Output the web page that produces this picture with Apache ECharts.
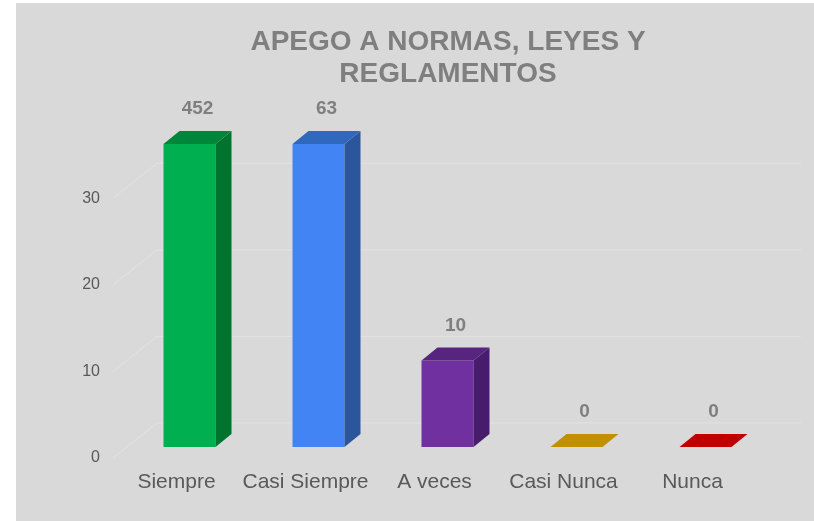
<!DOCTYPE html>
<html>
<head>
<meta charset="utf-8">
<script src="https://cdn.jsdelivr.net/npm/echarts@6/dist/echarts.min.js"></script>
<style>
    html, body { margin:0; padding:0; background:#ffffff; }
    #fondo { position:absolute; left:16px; top:3px; width:798px; height:518px; background:#d9d9d9; }
    #grafica { position:absolute; left:0; top:0; width:814px; height:521px; }
</style>
</head>
<body>
<div id="fondo"></div>
<div id="grafica"></div>
<script>
    var categorias = ['Siempre', 'Casi Siempre', 'A veces', 'Casi Nunca', 'Nunca'];
    var valores = [452, 63, 10, 0, 0];
    var lineasGuia = [0, 10, 20, 30];   //lineas de la pared del fondo
    var maxEje = 35;                    //el eje de excel corta las barras aqui

    //colores por barra: frente, lado, tapa
    var colorFrente = ['#00b050', '#4384f4', '#7030a0', '#bf9000', '#c00000'];
    var colorLado = ['#00742f', '#2b569c', '#481c6c', '#8f6b00', '#900000'];
    var colorTapa = ['#00863a', '#3068be', '#57247f', '#c09000', '#c00000'];

    var fuente = '"Liberation Sans", Arial, sans-serif';
    var myChart = echarts.init(document.getElementById('grafica'), null, {renderer:'canvas'});

    //profundidad de la pared y de la barra
    var PARED_DX = 44, PARED_DY = -35;
    var BARRA_DX = 16, BARRA_DY = -13;

    function dibujarGuia(params, api){
        var p = api.coord([0, api.value(1)]);
        var x0 = params.coordSys.x;
        var x1 = x0 + params.coordSys.width;
        var y = p[1];
        return {
            type:'polyline',
            shape:{ points:[[x0 + 1, y], [x0 + 1 + PARED_DX, y + PARED_DY], [x1 + PARED_DX, y + PARED_DY]] },
            style:{ stroke:'#e2e2e2', lineWidth:1, fill:null },
            silent:true
        };
    }

    function dibujarBarra(params, api){
        var i = api.value(0);
        var v = api.value(1);
        var base = api.coord([i, 0]);
        var tope = api.coord([i, Math.min(v, maxEje)]);
        var cx = base[0] + 13;
        var yb = base[1] - 11;
        var yt = tope[1] - 11;
        var hw = 26;
        var hijos = [];
        if (yb - yt > 0.5) {
            hijos.push({
                type:'rect',
                shape:{ x:cx - hw, y:yt, width:hw * 2, height:yb - yt },
                style:{ fill:colorFrente[i] }
            });
            hijos.push({
                type:'polygon',
                shape:{ points:[[cx + hw, yt], [cx + hw + BARRA_DX, yt + BARRA_DY], [cx + hw + BARRA_DX, yb + BARRA_DY], [cx + hw, yb]] },
                style:{ fill:colorLado[i] }
            });
        }
        hijos.push({
            type:'polygon',
            shape:{ points:[[cx - hw, yt], [cx + hw, yt], [cx + hw + BARRA_DX, yt + BARRA_DY], [cx - hw + BARRA_DX, yt + BARRA_DY]] },
            style:{ fill:colorTapa[i] }
        });
        hijos.push({
            type:'text',
            style:{
                text:String(v), x:cx + BARRA_DX / 2, y:yt + BARRA_DY - 22,
                align:'center', verticalAlign:'middle',
                font:'bold 19px ' + fuente, fill:'#7f7f7f'
            }
        });
        return { type:'group', children:hijos };
    }

    var option = {
        backgroundColor:'transparent',
        animation:false,
        graphic:[{
            type:'text',
            x:448, y:26,
            style:{
                text:'APEGO A NORMAS, LEYES Y\nREGLAMENTOS',
                align:'center', verticalAlign:'top',
                font:'bold 28px ' + fuente, lineHeight:32, fill:'#7f7f7f'
            }
        }],
        grid:{ left:112, right:57, top:155, bottom:63 },
        xAxis:{
            type:'category',
            data:categorias,
            axisLine:{ show:false },
            axisTick:{ show:false },
            axisLabel:{ color:'#595959', fontSize:21, fontFamily:fuente, margin:14, interval:0 }
        },
        yAxis:{
            type:'value',
            min:0, max:maxEje, interval:10,
            axisLine:{ show:false },
            axisTick:{ show:false },
            splitLine:{ show:false },
            axisLabel:{ color:'#595959', fontSize:16, fontFamily:fuente, margin:12, showMaxLabel:false }
        },
        series:[
            {
                type:'custom',
                renderItem:dibujarGuia,
                data:lineasGuia.map(function(t){ return [0, t]; }),
                z:1, silent:true, clip:false
            },
            {
                type:'custom',
                renderItem:dibujarBarra,
                data:valores.map(function(v, i){ return [i, v]; }),
                z:2, clip:false
            }
        ]
    };
    myChart.setOption(option);
</script>
</body>
</html>
